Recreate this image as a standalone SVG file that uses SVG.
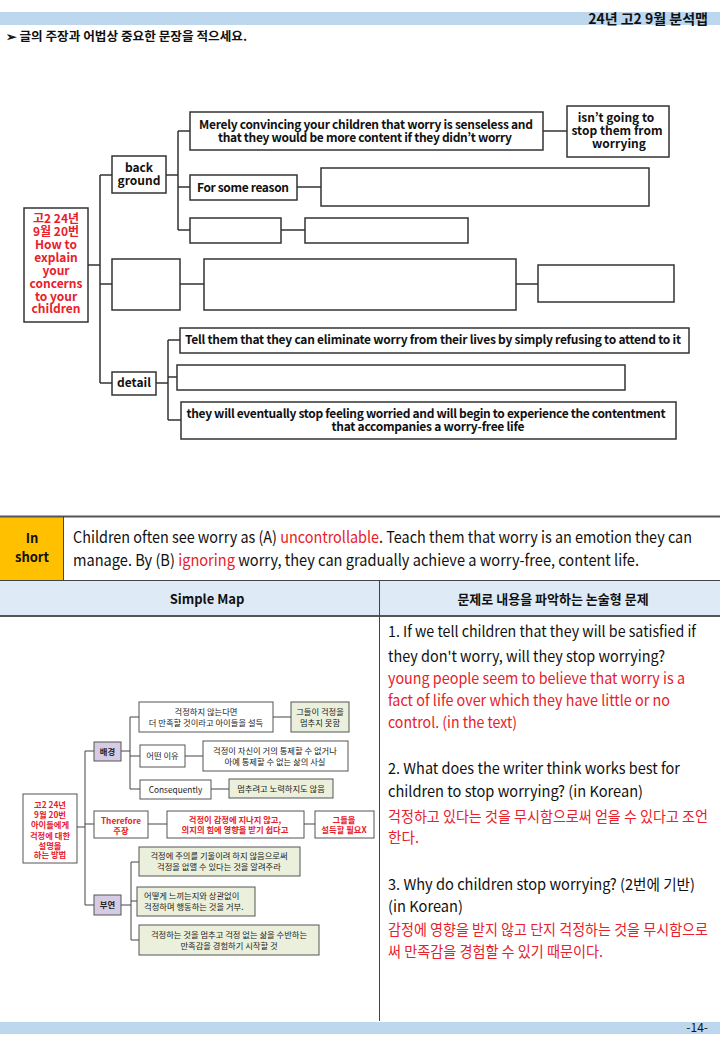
<svg xmlns="http://www.w3.org/2000/svg" width="720" height="1040" viewBox="0 0 720 1040">
<style>
text{font-family:"Noto Sans CJK KR","Noto Sans",sans-serif;fill:#111}
.b{font-weight:bold}
.t{font-size:12px;font-weight:bold;text-anchor:middle}
.r{fill:#e8202a}
.box{fill:#fff;stroke:#333;stroke-width:1.5}
.ln{fill:none;stroke:#333;stroke-width:1.5}
.sb{fill:#fff;stroke:#555;stroke-width:1}
.sg{fill:#ebf0dc;stroke:#555;stroke-width:1}
.sp{fill:#d5cce3;stroke:#555;stroke-width:1}
.sl{fill:none;stroke:#444;stroke-width:1}
.s{font-size:8.3px;text-anchor:middle;fill:#222}
.sl8{font-size:8.3px;text-anchor:start;fill:#222}
.sr{font-size:8.3px;text-anchor:middle;fill:#e8202a;font-weight:bold}
.q{font-size:15px}
</style>
<rect x="0" y="12" width="720" height="13" fill="#bdd7ee"/>
<text x="708" y="24" class="b" font-size="14" text-anchor="end">24년 고2 9월 분석맵</text>
<text x="6" y="41" class="b" font-size="12" textLength="241" lengthAdjust="spacingAndGlyphs">➢ 글의 주장과 어법상 중요한 문장을 적으세요.</text>

<g id="connectors-top">
<path class="ln" d="M88 265H100M100 175V383M100 175H112M100 284H112M100 383H112"/>
<path class="ln" d="M166 175H178M178 131V230M178 131H190M178 187H190M178 230H190"/>
<path class="ln" d="M543 131H567M297 187H321M281 230H305"/>
<path class="ln" d="M180 284H204M516 284H538"/>
<path class="ln" d="M156 383H168M168 340V420M168 340H180M168 377H177M168 420H181"/>
</g>
<g id="root">
<rect class="box" x="24" y="208" width="64" height="114"/>
<text class="t r" font-size="11.5" x="56"><tspan x="56" y="223">고2 24년</tspan><tspan x="56" y="236">9월 20번</tspan><tspan x="56" y="249">How to</tspan><tspan x="56" y="262">explain</tspan><tspan x="56" y="275">your</tspan><tspan x="56" y="288">concerns</tspan><tspan x="56" y="301">to your</tspan><tspan x="56" y="313">children</tspan></text>
</g>
<g id="background"><rect class="box" x="112" y="156" width="54" height="37"/><text class="t" x="139" y="172">back</text><text class="t" x="139" y="185">ground</text></g>
<g id="merely"><rect class="box" x="190" y="112" width="353" height="38"/><text class="t" x="366" y="129" textLength="334">Merely convincing your children that worry is senseless and</text><text class="t" x="365" y="142" textLength="294">that they would be more content if they didn’t worry</text></g>
<g id="isnt"><rect class="box" x="567" y="106" width="102" height="51"/><text class="t" x="616" y="122">isn’t going to</text><text class="t" x="617" y="135">stop them from</text><text class="t" x="619" y="148">worrying</text></g>
<g id="reason"><rect class="box" x="190" y="175" width="107" height="25"/><text class="t" x="243" y="192" textLength="92">For some reason</text></g>
<g id="reason-blank"><rect class="box" x="321" y="168" width="328" height="38"/></g>
<g id="b3a"><rect class="box" x="190" y="218" width="91" height="25"/></g>
<g id="b3b"><rect class="box" x="305" y="218" width="163" height="25"/></g>
<g id="main2"><rect class="box" x="112" y="259" width="68" height="51"/></g>
<g id="main2b"><rect class="box" x="204" y="259" width="312" height="51"/></g>
<g id="main2c"><rect class="box" x="538" y="265" width="136" height="37"/></g>
<g id="detail"><rect class="box" x="112" y="372" width="44" height="23"/><text class="t" x="134" y="387">detail</text></g>
<g id="tell"><rect class="box" x="180" y="328" width="509" height="25"/><text class="t" x="433" y="344" textLength="496">Tell them that they can eliminate worry from their lives by simply refusing to attend to it</text></g>
<g id="d-blank"><rect class="box" x="177" y="365" width="448" height="25"/></g>
<g id="theywill"><rect class="box" x="181" y="402" width="495" height="37"/><text class="t" x="426" y="418" textLength="479">they will eventually stop feeling worried and will begin to experience the contentment</text><text class="t" x="428" y="431" textLength="193">that accompanies a worry-free life</text></g>

<g id="inshort">
<rect x="0" y="517" width="63" height="63" fill="#ffc000"/>
<text class="b" font-size="13" text-anchor="middle" x="32" y="543">In</text>
<text class="b" font-size="13" text-anchor="middle" x="32" y="562">short</text>
<text x="73" y="543" font-size="16" textLength="619" lengthAdjust="spacingAndGlyphs">Children often see worry as (A) <tspan class="r">uncontrollable</tspan>. Teach them that worry is an emotion they can</text>
<text x="73" y="566" font-size="16" textLength="566" lengthAdjust="spacingAndGlyphs">manage. By (B) <tspan class="r">ignoring</tspan> worry, they can gradually achieve a worry-free, content life.</text>
</g>
<g id="table">
<rect x="0" y="581" width="720" height="35" fill="#deebf7"/>
<path d="M0 516.5H720" stroke="#555" stroke-width="2"/>
<path d="M63.5 516V580M0 580.5H720" stroke="#444" stroke-width="1"/>
<path d="M0 616H720" stroke="#555" stroke-width="2"/>
<path d="M379.5 581V1021" stroke="#444" stroke-width="1"/>
<text class="b" font-size="13" text-anchor="middle" x="207" y="604">Simple Map</text>
<text class="b" font-size="13" text-anchor="middle" x="553" y="604">문제로 내용을 파악하는 논술형 문제</text>
</g>

<g id="questions">
<text class="q" x="388" y="637" textLength="308" lengthAdjust="spacingAndGlyphs">1. If we tell children that they will be satisfied if</text>
<text class="q" x="388" y="662" textLength="277" lengthAdjust="spacingAndGlyphs">they don't worry, will they stop worrying?</text>
<text class="q r" x="388" y="684" textLength="297" lengthAdjust="spacingAndGlyphs">young people seem to believe that worry is a</text>
<text class="q r" x="388" y="706" textLength="282" lengthAdjust="spacingAndGlyphs">fact of life over which they have little or no</text>
<text class="q r" x="388" y="728" textLength="129" lengthAdjust="spacingAndGlyphs">control. (in the text)</text>
<text class="q" x="388" y="774" textLength="292" lengthAdjust="spacingAndGlyphs">2. What does the writer think works best for</text>
<text class="q" x="388" y="797" textLength="255" lengthAdjust="spacingAndGlyphs">children to stop worrying? (in Korean)</text>
<text class="q r" x="388" y="822" textLength="320" lengthAdjust="spacingAndGlyphs">걱정하고 있다는 것을 무시함으로써 얻을 수 있다고 조언</text>
<text class="q r" x="388" y="843" textLength="31" lengthAdjust="spacingAndGlyphs">한다.</text>
<text class="q" x="388" y="890" textLength="307" lengthAdjust="spacingAndGlyphs">3. Why do children stop worrying? (2번에 기반)</text>
<text class="q" x="388" y="912" textLength="75" lengthAdjust="spacingAndGlyphs">(in Korean)</text>
<text class="q r" x="388" y="935" textLength="320" lengthAdjust="spacingAndGlyphs">감정에 영향을 받지 않고 단지 걱정하는 것을 무시함으로</text>
<text class="q r" x="388" y="957" textLength="215" lengthAdjust="spacingAndGlyphs">써 만족감을 경험할 수 있기 때문이다.</text>
</g>

<g id="connectors-small">
<path class="sl" d="M77 827H85M85 751V905M85 751H94M85 824H94M85 905H94"/>
<path class="sl" d="M121 751H130M130 717V789M130 717H139M130 756H140M130 789H140"/>
<path class="sl" d="M273 717H291M185 756H203M211 789H229"/>
<path class="sl" d="M148 824H167M304 824H315"/>
<path class="sl" d="M121 905H131M131 862V940M131 862H139M131 901H137M131 940H139"/>
</g>
<g id="s-root"><rect class="sb" x="23" y="794" width="54" height="69"/>
<text class="sr" x="50" y="808">고2 24년</text><text class="sr" x="50" y="818">9월 20번</text><text class="sr" x="50" y="828">아이들에게</text><text class="sr" x="50" y="839">걱정에 대한</text><text class="sr" x="50" y="849">설명을</text><text class="sr" x="50" y="858">하는 방법</text></g>
<g id="s-bg"><rect class="sp" x="94" y="742" width="27" height="19"/><text class="s b" x="107.5" y="754.5">배경</text></g>
<g id="s-a"><rect class="sb" x="139" y="702" width="134" height="30"/><text class="s" x="206" y="715">걱정하지 않는다면</text><text class="s" x="206" y="726">더 만족할 것이라고 아이들을 설득</text></g>
<g id="s-b"><rect class="sg" x="291" y="702" width="58" height="30"/><text class="s" x="320" y="715">그들이 걱정을</text><text class="s" x="320" y="726">멈추지 못함</text></g>
<g id="s-c"><rect class="sb" x="140" y="745" width="45" height="22"/><text class="s" x="162.5" y="759">어떤 이유</text></g>
<g id="s-d"><rect class="sb" x="203" y="741" width="145" height="30"/><text class="s" x="275" y="754">걱정이 자신이 거의 통제할 수 없거나</text><text class="s" x="275" y="765">아예 통제할 수 없는 삶의 사실</text></g>
<g id="s-e"><rect class="sb" x="140" y="780" width="71" height="19"/><text class="s" x="175.5" y="792.5">Consequently</text></g>
<g id="s-f"><rect class="sg" x="229" y="779" width="104" height="19"/><text class="s" x="281" y="792">멈추려고 노력하지도 않음</text></g>
<g id="s-therefore"><rect class="sb" x="94" y="811" width="54" height="27"/><text class="sr" x="121" y="824">Therefore</text><text class="sr" x="121" y="834">주장</text></g>
<g id="s-g"><rect class="sb" x="167" y="811" width="137" height="27"/><text class="sr" x="235" y="823">걱정이 감정에 지나지 않고,</text><text class="sr" x="235" y="833">의지의 힘에 영향을 받기 쉽다고</text></g>
<g id="s-h"><rect class="sb" x="315" y="811" width="59" height="27"/><text class="sr" x="344" y="823">그들을</text><text class="sr" x="344" y="833">설득할 필요X</text></g>
<g id="s-buyeon"><rect class="sp" x="94" y="895" width="27" height="20"/><text class="s b" x="107.5" y="908">부연</text></g>
<g id="s-i"><rect class="sg" x="139" y="847" width="161" height="29"/><text class="s" x="219" y="859">걱정에 주의를 기울이려 하지 않음으로써</text><text class="s" x="219" y="870">걱정을 없앨 수 있다는 것을 알려주라</text></g>
<g id="s-j"><rect class="sg" x="137" y="887" width="118" height="29"/><text class="sl8" x="144" y="899">어떻게 느끼는지와 상관없이</text><text class="sl8" x="144" y="910">걱정하며 행동하는 것을 거부.</text></g>
<g id="s-k"><rect class="sg" x="139" y="925" width="180" height="30"/><text class="s" x="229" y="938">걱정하는 것을 멈추고 걱정 없는 삶을 수반하는</text><text class="s" x="229" y="949">만족감을 경험하기 시작할 것</text></g>

<rect x="0" y="1022" width="720" height="12" fill="#bdd7ee"/>
<text x="708" y="1032" font-size="12" text-anchor="end">-14-</text>
</svg>
